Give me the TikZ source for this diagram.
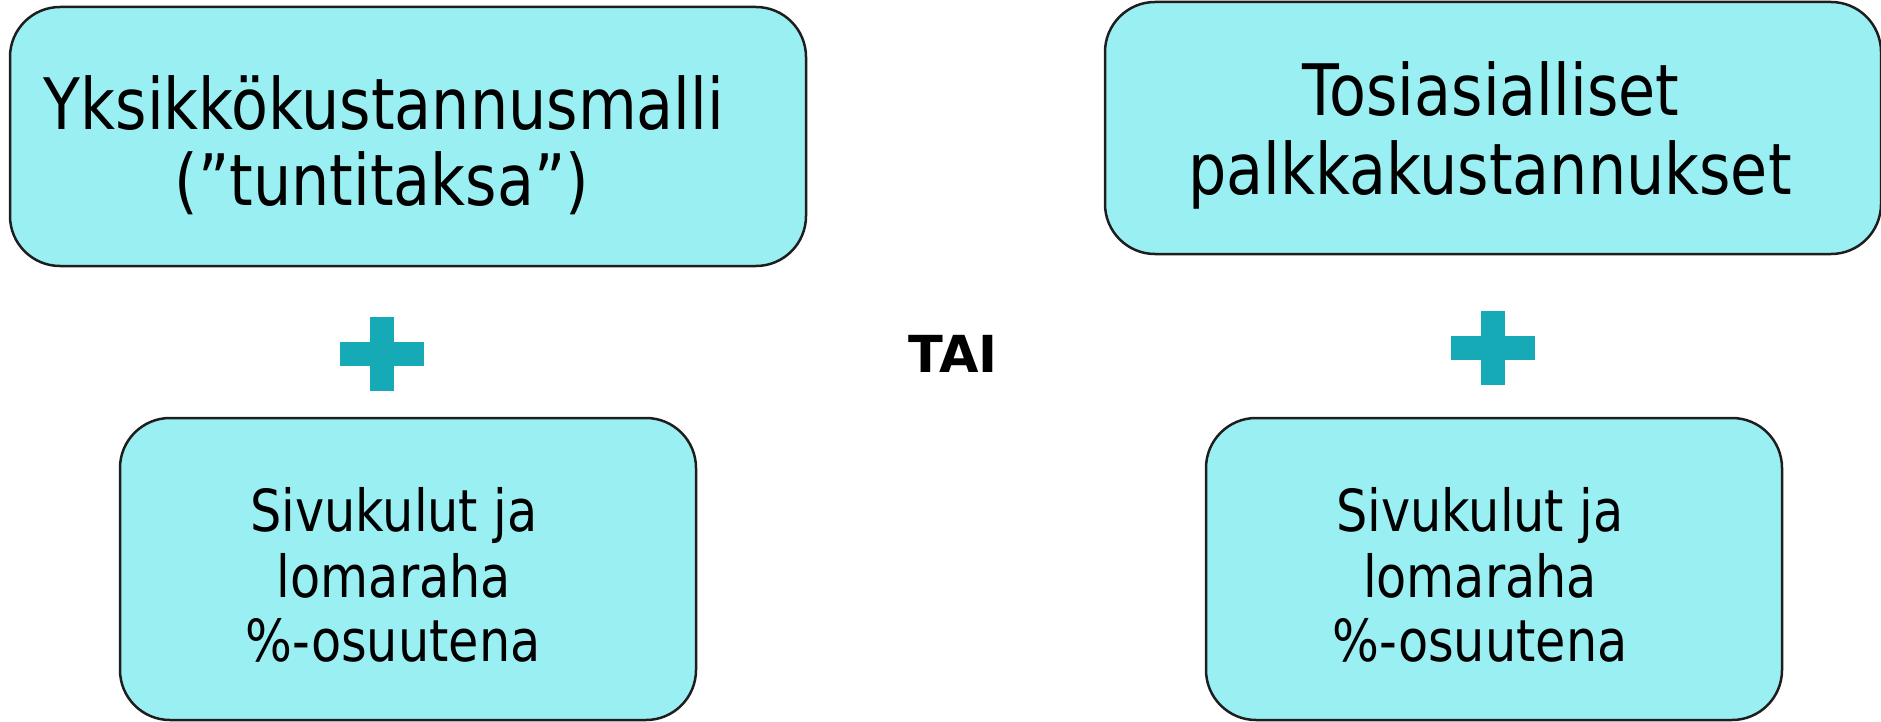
\documentclass[tikz,border=0pt]{standalone}
\usepackage{fontspec}
\newfontfamily\boxfont[FakeStretch=0.85]{DejaVu Sans}
\newfontfamily\taifont{DejaVu Sans}
\definecolor{boxfill}{HTML}{9AEFF3}
\definecolor{plusteal}{HTML}{15AAB5}
\definecolor{boxline}{HTML}{1E1E1E}
\begin{document}
\begin{tikzpicture}[x=1pt,y=-1pt,
  box/.style={draw=boxline, fill=boxfill, line width=2.5pt, rounded corners=50pt, inner sep=0pt},
  bigtxt/.style={anchor=base, inner sep=0pt, font=\boxfont\fontsize{71}{85}\selectfont},
  smalltxt/.style={anchor=base, inner sep=0pt, font=\boxfont\fontsize{58}{70}\selectfont},
  taitxt/.style={anchor=base, inner sep=0pt, font=\taifont\bfseries\fontsize{51}{60}\selectfont},
  plusbar/.style={fill=plusteal, draw=none}
]
\useasboundingbox (0,0) rectangle (1881,722);

% boxes
\node[box, minimum width=796pt, minimum height=259pt] (b1) at (408,136.5) {};
\node[box, minimum width=776pt, minimum height=252pt] (b2) at (1493,128) {};
\node[box, minimum width=576pt, minimum height=302pt] (b3) at (408,569) {};
\node[box, minimum width=576pt, minimum height=302pt] (b4) at (1494,569) {};

% texts
\node[bigtxt] (t1a) at (384,130) {Yksikkökustannusmalli};
\node[bigtxt] (t1b) at (382,206) {(”tuntitaksa”)};
\node[bigtxt] (t2a) at (1491,116) {Tosiasialliset};
\node[bigtxt] (t2b) at (1490,194) {palkkakustannukset};

\node[smalltxt] (t3a) at (394,531) {Sivukulut ja};
\node[smalltxt] (t3b) at (394,597) {lomaraha};
\node[smalltxt] (t3c) at (393,661) {\%-osuutena};

\node[smalltxt] (t4a) at (1480,531) {Sivukulut ja};
\node[smalltxt] (t4b) at (1480,597) {lomaraha};
\node[smalltxt] (t4c) at (1480,661) {\%-osuutena};

\node[taitxt] (tai) at (953,372) {TAI};

% plus signs
\fill[plusbar] (382-42,354-12) rectangle (382+42,354+12);
\fill[plusbar] (382-12,354-37) rectangle (382+12,354+37);
\fill[plusbar] (1493-42,348-12) rectangle (1493+42,348+12);
\fill[plusbar] (1493-12,348-37) rectangle (1493+12,348+37);
\end{tikzpicture}
\end{document}
